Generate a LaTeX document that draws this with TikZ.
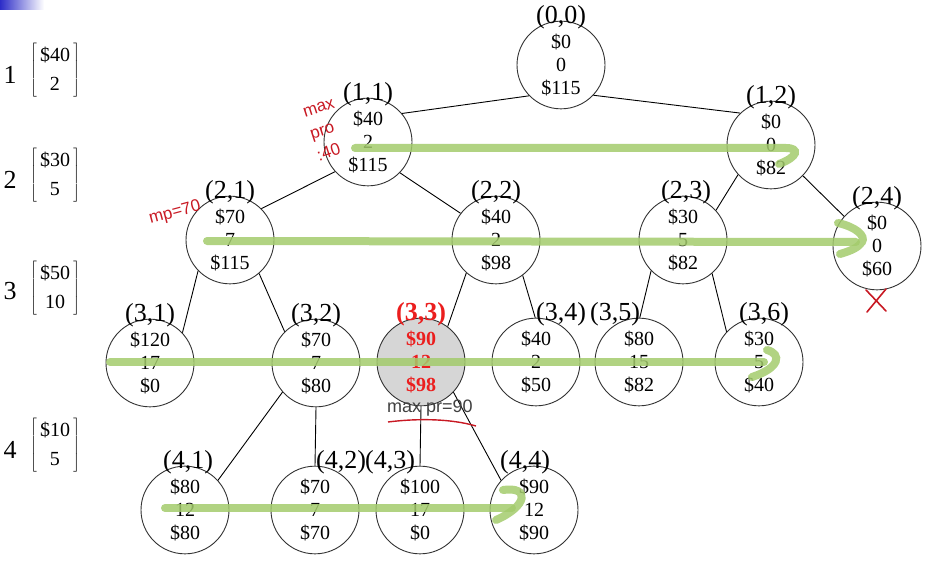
\documentclass[tikz,border=0pt]{standalone}
\usepackage{fontspec}
\setmainfont{Liberation Serif}
\setsansfont{Liberation Sans}
\usetikzlibrary{positioning,shapes.geometric}
\definecolor{tracegreen}{RGB}{163,203,108}
\definecolor{inkred}{RGB}{200,25,35}
\definecolor{hotred}{RGB}{235,30,30}
\definecolor{barblue}{RGB}{45,45,200}
\newcommand{\wtvec}[2]{$\left[\begin{tabular}{@{\,}c@{\,}}#1\\#2\end{tabular}\right]$}
\tikzset{
  state/.style={ellipse,draw=black!80,line width=0.9pt,minimum width=88pt,minimum height=76pt,
    inner sep=0pt,align=center,font=\fontsize{20}{23}\selectfont,
    execute at begin node={\rule{0pt}{20pt}}},
  beststate/.style={state,fill=black!16,text=hotred,font=\fontsize{20}{23}\selectfont\bfseries},
  tag/.style={inner sep=0pt,font=\fontsize{26}{26}\selectfont},
  itemno/.style={inner sep=0pt,font=\fontsize{26}{26}\selectfont},
  itemvec/.style={inner sep=0pt,font=\fontsize{20}{29}\selectfont},
  scrawl/.style={inner sep=0pt,font=\sffamily\fontsize{17}{23}\selectfont,text=inkred},
  trace/.style={draw=tracegreen,line width=8pt,line cap=round,opacity=0.85},
  every edge/.style={draw,line width=0.9pt}
}
\begin{document}
\begin{tikzpicture}[x=1pt,y=-1pt]
  \useasboundingbox (0,0) rectangle (934,564);
  \shade[left color=barblue,right color=white] (0,0) rectangle (44,10);

  % items
  \node[itemno] (no1) at (10,75) {1};
  \node[itemvec] (it1) at (55,70) {\wtvec{\$40}{2}};
  \node[itemno] (no2) at (10,180) {2};
  \node[itemvec] (it2) at (55,175) {\wtvec{\$30}{5}};
  \node[itemno] (no3) at (10,291) {3};
  \node[itemvec] (it3) at (55,288) {\wtvec{\$50}{10}};
  \node[itemno] (no4) at (10,450) {4};
  \node[itemvec] (it4) at (55,445) {\wtvec{\$10}{5}};

  % tree
  \node[state] (n00) at (561,65) {\$0\\0\\\$115};
  \node[state] (n11) at (368,142) {\$40\\2\\\$115};
  \node[state] (n12) at (771,145) {\$0\\0\\\$82};
  \node[state] (n21) at (230,240) {\$70\\7\\\$115};
  \node[state] (n22) at (496,240) {\$40\\2\\\$98};
  \node[state] (n23) at (683,240) {\$30\\5\\\$82};
  \node[state] (n24) at (877,246) {\$0\\0\\\$60};
  \node[state] (n31) at (150,363) {\$120\\17\\\$0};
  \node[state] (n32) at (316,363) {\$70\\7\\\$80};
  \node[beststate] (n33) at (421,362) {\$90\\12\\\$98};
  \node[state] (n34) at (536,362) {\$40\\2\\\$50};
  \node[state] (n35) at (639,362) {\$80\\15\\\$82};
  \node[state] (n36) at (759,362) {\$30\\5\\\$40};
  \node[state] (n41) at (185,510) {\$80\\12\\\$80};
  \node[state] (n42) at (315,510) {\$70\\7\\\$70};
  \node[state] (n43) at (420,510) {\$100\\17\\\$0};
  \node[state] (n44) at (534,510) {\$90\\12\\\$90};

  \node[tag,above=-9pt of n00] (l00) {(0,0)};
  \node[tag,above=-9pt of n11] (l11) {(1,1)};
  \node[tag,above=-9pt of n12] (l12) {(1,2)};
  \node[tag,above=-9pt of n21] (l21) {(2,1)};
  \node[tag,above=-9pt of n22] (l22) {(2,2)};
  \node[tag,above=-9pt of n23,xshift=3pt] (l23) {(2,3)};
  \node[tag,above=-9pt of n24] (l24) {(2,4)};
  \node[tag,above=-9pt of n31] (l31) {(3,1)};
  \node[tag,above=-9pt of n32] (l32) {(3,2)};
  \node[tag,above=-9pt of n33,text=hotred,font=\fontsize{26}{26}\selectfont\bfseries] (l33) {(3,3)};
  \node[tag,above=-9pt of n34,xshift=25pt] (l34) {(3,4)};
  \node[tag,above=-9pt of n35,xshift=-24pt] (l35) {(3,5)};
  \node[tag,above=-9pt of n36,xshift=5pt] (l36) {(3,6)};
  \node[tag,above=-9pt of n41,xshift=3pt] (l41) {(4,1)};
  \node[tag,above=-9pt of n42,xshift=26pt] (l42) {(4,2)};
  \node[tag,above=-9pt of n43,xshift=-30pt] (l43) {(4,3)};
  \node[tag,above=-9pt of n44,xshift=-9pt] (l44) {(4,4)};

  \path
    (n00.224) edge (n11.40)
    (n00.317) edge (n12.134)
    (n11.222) edge (n21.45)
    (n11.316) edge (n22.143)
    (n12.222) edge (n23.42)
    (n12.316) edge (n24.138)
    (n21.224) edge (n31.43)
    (n21.311) edge (n32.135)
    (n22.228) edge (n33.53)
    (n22.307) edge (n34.91)
    (n23.224) edge (n35.89)
    (n23.311) edge (n36.137)
    (n32.221) edge (n41.42)
    (n32.south) edge (n42.north)
    (n33.south) edge (n43.north)
    (n33.317) edge (n44.138);

  % green traces
  \draw[trace] (355,148) -- (786,148) .. controls (800,148) and (798,157) .. (779,164);
  \draw[trace] (207,241) -- (856,242);
  \draw[trace] (838,223) .. controls (856,227) and (866,236) .. (862,242)
    .. controls (858,248) and (850,251) .. (840,254);
  \draw[trace] (110,362) -- (764,362);
  \draw[trace] (767,350) .. controls (782,354) and (780,368) .. (752,377);
  \draw[trace] (165,508) -- (512,508);
  \draw[trace] (503,490) .. controls (530,486) and (528,506) .. (496,520);

  % notes
  \node[scrawl,rotate=18,align=left] (note11) at (326,130) {max\\pro\\:40};
  \node[scrawl,rotate=15] (note21) at (175,213) {mp=70};
  \node[scrawl,text=black!75,font=\sffamily\fontsize{18}{20}\selectfont] (note33) at (430,408) {max pr=90};
  \draw[inkred,line width=1.4pt] (388,422) .. controls (420,418) and (452,419) .. (476,426);
  \draw[inkred,line width=1.6pt,line cap=round] (866,290) -- (886,311) (886,289) -- (867,312);
\end{tikzpicture}
\end{document}
